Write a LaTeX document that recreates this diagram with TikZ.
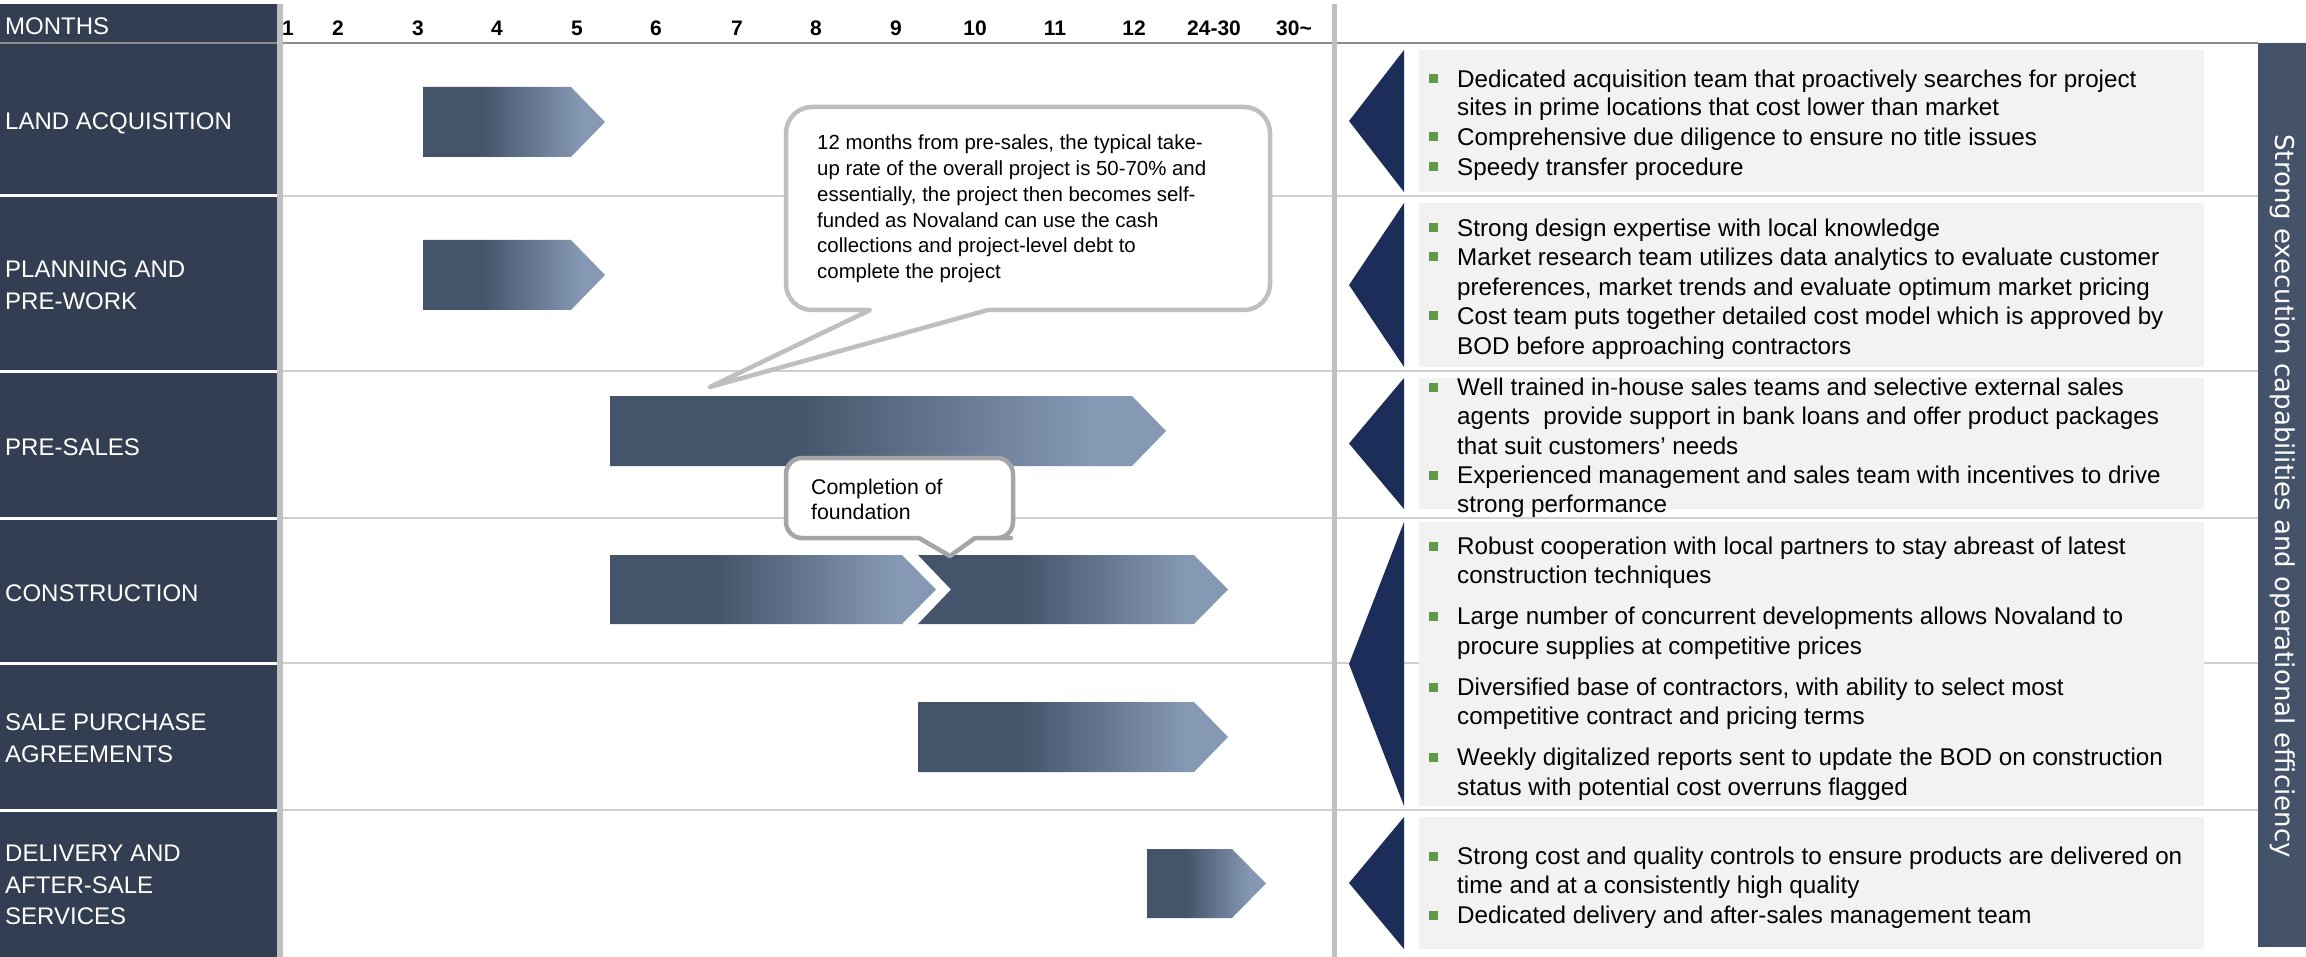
\documentclass[tikz,border=0pt]{standalone}
\usepackage{fontspec}
\setmainfont{Liberation Sans}
\newfontfamily\sidefont{DejaVu Sans}
\definecolor{coldark}{HTML}{333E52}
\definecolor{bardark}{HTML}{44546B}
\definecolor{barlight}{HTML}{8699B4}
\definecolor{navy}{HTML}{1C2D5A}
\definecolor{boxgray}{HTML}{F2F2F2}
\definecolor{bulgreen}{HTML}{609947}
\definecolor{sidebarc}{HTML}{44536A}
\definecolor{linegray}{HTML}{D0D0D0}
\definecolor{vgray}{HTML}{C0C0C0}
\definecolor{hdrline}{HTML}{8C8C8C}
\definecolor{callone}{HTML}{BFBFBF}
\definecolor{calltwo}{HTML}{A6A6A6}
\pgfdeclarehorizontalshading{barshade}{100bp}{color(0bp)=(bardark); color(41.5bp)=(bardark); color(68.5bp)=(barlight); color(100bp)=(barlight)}
\begin{document}
\begin{tikzpicture}[x=1pt,y=-1pt,
  lab/.style={anchor=base west, inner sep=0pt, text=white, font=\fontsize{24}{28}\selectfont},
  mon/.style={anchor=base, inner sep=0pt, font=\bfseries\fontsize{21}{26}\selectfont},
  rtext/.style={anchor=mid west, inner sep=0pt, font=\fontsize{24.2}{29}\selectfont},
  ctext/.style={anchor=mid west, inner sep=0pt, font=\fontsize{20.4}{24}\selectfont},
  cdtext/.style={anchor=mid west, inner sep=0pt, font=\fontsize{21.3}{25}\selectfont},
  ganttbar/.style={shading=barshade},
  tri/.style={fill=navy},
  gbox/.style={fill=boxgray},
  bul/.style={fill=bulgreen},
  rowline/.style={draw=linegray, line width=2pt},
  callbox/.style={line width=4.5pt, fill=white, line join=round}
]
\useasboundingbox (0,0) rectangle (2306,957);
\fill[white] (0,0) rectangle (2306,957);
% left dark column
\fill[coldark] (0,4) rectangle (277,957);
\foreach \yy in {196,371,518,663,810} \draw[white, line width=3pt] (0,\yy) -- (277,\yy);
% grid lines
\draw[hdrline, line width=2pt] (0,43) -- (2258,43);
\foreach \yy in {196,371,518,663,810} \draw[rowline] (283,\yy) -- (2258,\yy);
\draw[vgray, line width=6pt] (280,4) -- (280,957);
\draw[vgray, line width=5pt] (1334.5,4) -- (1334.5,957);
% left labels
\node[lab] (hdr) at (5,34.5) {MONTHS};
\node[lab] (l1) at (5,130) {LAND ACQUISITION};
\node[lab] (l2a) at (5,278) {PLANNING AND};
\node[lab] (l2b) at (5,310) {PRE-WORK};
\node[lab] (l3) at (5,455) {PRE-SALES};
\node[lab] (l4) at (5,601) {CONSTRUCTION};
\node[lab] (l5a) at (5,730) {SALE PURCHASE};
\node[lab] (l5b) at (5,762) {AGREEMENTS};
\node[lab] (l6a) at (5,861) {DELIVERY AND};
\node[lab] (l6b) at (5,893) {AFTER-SALE};
\node[lab] (l6c) at (5,924) {SERVICES};
% months
\foreach \xx/\mt [count=\i] in {288/1,338/2,418/3,497/4,577/5,656/6,737/7,816/8,896/9,975/10,1055/11,1134/12,1214/24-30,1294/30\textasciitilde}
  \node[mon] (m\i) at (\xx,35.5) {\mt};
% bars
\shade[ganttbar] (423,87) -- (571,87) -- (605,122) -- (571,157) -- (423,157) -- cycle;
\shade[ganttbar] (423,240) -- (571,240) -- (605,275) -- (571,310) -- (423,310) -- cycle;
\shade[ganttbar] (610,396) -- (1132,396) -- (1166,431) -- (1132,466) -- (610,466) -- cycle;
\shade[ganttbar] (610,555) -- (902,555) -- (936,589.5) -- (902,624) -- (610,624) -- cycle;
\shade[ganttbar] (918,555) -- (1194,555) -- (1228,589.5) -- (1194,624) -- (918,624) -- (951,589.5) -- cycle;
\shade[ganttbar] (918,702) -- (1194,702) -- (1228,737) -- (1194,772) -- (918,772) -- cycle;
\shade[ganttbar] (1147,849) -- (1232,849) -- (1266,883.5) -- (1232,918) -- (1147,918) -- cycle;
% callout 1
\draw[callbox, draw=callone] (1000,107) [rounded corners=26pt] -- (1270,107) -- (1270,310) -- (1100,310) [sharp corners] -- (988,310) -- (710,387) -- (870,310) -- (830,310) [rounded corners=26pt] -- (786,310) -- (786,107) -- cycle;
\node[ctext] (c1a) at (817,147) {12 months from pre-sales, the typical take-};
\node[ctext] (c1b) at (817,172.8) {up rate of the overall project is 50-70\% and};
\node[ctext] (c1c) at (817,198.6) {essentially, the project then becomes self-};
\node[ctext] (c1d) at (817,224.4) {funded as Novaland can use the cash};
\node[ctext] (c1e) at (817,250.2) {collections and project-level debt to};
\node[ctext] (c1f) at (817,276) {complete the project};
% callout 2
\draw[callbox, draw=calltwo] (900,458) [rounded corners=16pt] -- (1013,458) -- (1013,538) -- (995,538) [sharp corners] -- (975,538) -- (950,556) -- (919,538) -- (905,538) [rounded corners=16pt] -- (786,538) -- (786,458) -- cycle;
\node[cdtext] (c2a) at (811,492) {Completion of};
\node[cdtext] (c2b) at (811,517) {foundation};
% right panel
\fill[tri] (1404,50) -- (1349,121) -- (1404,192) -- cycle;
\fill[tri] (1404,203) -- (1349,285) -- (1404,367) -- cycle;
\fill[tri] (1404,378) -- (1349,443.5) -- (1404,509) -- cycle;
\fill[tri] (1404,522) -- (1349,664) -- (1404,806) -- cycle;
\fill[tri] (1404,817) -- (1349,883) -- (1404,949) -- cycle;
\fill[gbox] (1419,50) rectangle (2204,192);
\fill[gbox] (1419,203) rectangle (2204,367);
\fill[gbox] (1419,378) rectangle (2204,509);
\fill[gbox] (1419,522) rectangle (2204,806);
\fill[gbox] (1419,817) rectangle (2204,949);
\foreach \yy in {79,137,167,228,257,316,387,475,546,616,687,757,856,915}
  \fill[bul] (1428.5,\yy-4.5) rectangle (1437.5,\yy+4.5);
\begin{scope}[yshift=-6pt]
\node[rtext] (r1a) at (1457,79) {Dedicated acquisition team that proactively searches for project};
\node[rtext] (r1b) at (1457,107) {sites in prime locations that cost lower than market};
\node[rtext] (r1c) at (1457,137) {Comprehensive due diligence to ensure no title issues};
\node[rtext] (r1d) at (1457,167) {Speedy transfer procedure};
\node[rtext] (r2a) at (1457,228) {Strong design expertise with local knowledge};
\node[rtext] (r2b) at (1457,257) {Market research team utilizes data analytics to evaluate customer};
\node[rtext] (r2c) at (1457,287) {preferences, market trends and evaluate optimum market pricing};
\node[rtext] (r2d) at (1457,316) {Cost team puts together detailed cost model which is approved by};
\node[rtext] (r2e) at (1457,346) {BOD before approaching contractors};
\node[rtext] (r3a) at (1457,387) {Well trained in-house sales teams and selective external sales};
\node[rtext] (r3b) at (1457,416) {agents\ \ provide support in bank loans and offer product packages};
\node[rtext] (r3c) at (1457,446) {that suit customers’ needs};
\node[rtext] (r3d) at (1457,475) {Experienced management and sales team with incentives to drive};
\node[rtext] (r3e) at (1457,504) {strong performance};
\node[rtext] (r4a) at (1457,546) {Robust cooperation with local partners to stay abreast of latest};
\node[rtext] (r4b) at (1457,575) {construction techniques};
\node[rtext] (r4c) at (1457,616) {Large number of concurrent developments allows Novaland to};
\node[rtext] (r4d) at (1457,646) {procure supplies at competitive prices};
\node[rtext] (r4e) at (1457,687) {Diversified base of contractors, with ability to select most};
\node[rtext] (r4f) at (1457,716) {competitive contract and pricing terms};
\node[rtext] (r4g) at (1457,757) {Weekly digitalized reports sent to update the BOD on construction};
\node[rtext] (r4h) at (1457,787) {status with potential cost overruns flagged};
\node[rtext] (r6a) at (1457,856) {Strong cost and quality controls to ensure products are delivered on};
\node[rtext] (r6b) at (1457,885) {time and at a consistently high quality};
\node[rtext] (r6c) at (1457,915) {Dedicated delivery and after-sales management team};
\end{scope}
% side bar
\fill[sidebarc] (2258,43) rectangle (2306,947);
\node[rotate=-90, text=white, inner sep=0pt, font=\sidefont\fontsize{26}{30}\selectfont] (side) at (2283,496) {Strong execution capabilities and operational efficiency};
\end{tikzpicture}
\end{document}
